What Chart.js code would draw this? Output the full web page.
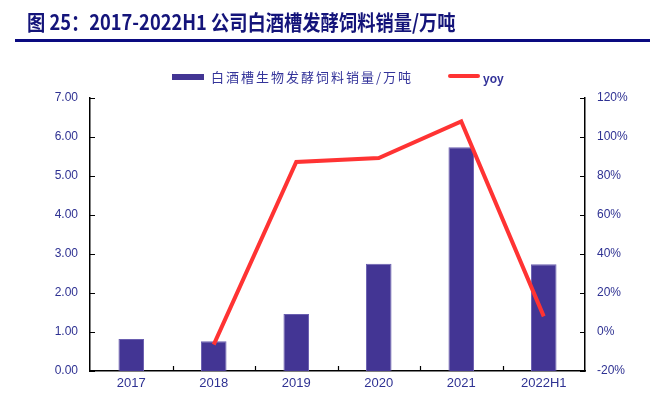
<!DOCTYPE html>
<html>
<head>
<meta charset="utf-8">
<script src="https://cdn.jsdelivr.net/npm/chart.js@4.4.0/dist/chart.umd.min.js"></script>
<style>
  body { margin: 0; background: #fff; }
  #wrap { position: relative; width: 654px; height: 394px; overflow: hidden; }
  #title { position: absolute; left: 27px; top: 6px; font: bold 21px "Noto Sans CJK SC", sans-serif; color: #14147a; white-space: nowrap; transform: scaleX(0.87); transform-origin: left top; }
  #rule { position: absolute; left: 15px; right: 4px; top: 39px; height: 3px; background: #0a0a80; }
  #legend { position: absolute; top: 67px; left: 172px; font: 13px "Noto Sans CJK SC", sans-serif; color: #34349a; display: flex; align-items: center; white-space: nowrap; }
  #legend .item { display: flex; align-items: center; }
  #legend .sw { display: inline-block; width: 32px; margin-right: 7px; }
  #c { position: absolute; left: 0; top: 0; }
</style>
</head>
<body>
<div id="wrap">
  <canvas id="c" width="654" height="394"></canvas>
  <div id="title">图 25：2017-2022H1 公司白酒槽发酵饲料销量/万吨</div>
  <div id="rule"></div>
  <div id="legend"></div>
</div>
<script>
let years = ["2017", "2018", "2019", "2020", "2021", "2022H1"]
let sales = [0.82, 0.76, 1.46, 2.75, 5.74, 2.74] // 万吨
let yoy = [null, -6.5, 87.2, 89.2, 108, 8] // %
let salesLabel = "白酒槽生物发酵饲料销量/万吨"
let yoyLabel = "yoy"
let barColor = "#433594"
let lineColor = "#ff3333"
let tickColor = "#2e3192"

// легенда в html, з тих самих назв і кольорів
let legend = document.getElementById("legend")
legend.innerHTML = `
  <div class="item"><span class="sw" style="height:6px;background:${barColor}"></span><span style="letter-spacing:2px">${salesLabel}</span></div>
  <div class="item" style="margin-left:35px"><span class="sw" style="height:4px;background:${lineColor};border-radius:2px;margin-right:3px;margin-top:-2px"></span><span style="margin-top:5px;font:bold 12px 'Liberation Sans'">${yoyLabel}</span></div>
`

// короткі риски всередину графіка
let innerTicks = {
    id: "innerTicks",
    afterDraw(chart) {
        let ctx = chart.ctx
        let a = chart.chartArea
        ctx.save()
        ctx.strokeStyle = "#000"
        ctx.lineWidth = 1.2
        ctx.beginPath()
        chart.scales.y.ticks.forEach(t => {
            let py = Math.round(chart.scales.y.getPixelForValue(t.value)) + 0.5
            ctx.moveTo(a.left, py); ctx.lineTo(a.left + 5, py)
        })
        chart.scales.y1.ticks.forEach(t => {
            let py = Math.round(chart.scales.y1.getPixelForValue(t.value)) + 0.5
            ctx.moveTo(a.right, py); ctx.lineTo(a.right - 5, py)
        })
        let xs = chart.scales.x
        for (let i = 1; i < years.length; i++) {
            let px = Math.round((xs.getPixelForValue(i - 1) + xs.getPixelForValue(i)) / 2) + 0.5
            ctx.moveTo(px, a.bottom); ctx.lineTo(px, a.bottom - 5)
        }
        ctx.stroke()
        ctx.restore()
    }
}

let ctx = document.getElementById("c").getContext("2d")
new Chart(ctx, {
    data: {
        labels: years,
        datasets: [{
            type: "line",
            label: yoyLabel,
            data: yoy,
            yAxisID: "y1",
            borderColor: lineColor,
            borderWidth: 4,
            pointRadius: 0,
            tension: 0,
            order: 0
        }, {
            type: "bar",
            label: salesLabel,
            data: sales,
            yAxisID: "y",
            backgroundColor: barColor,
            borderColor: "#6a5fb0",
            borderWidth: { top: 1, left: 1, right: 1, bottom: 0 },
            barPercentage: 0.31,
            categoryPercentage: 1,
            order: 1
        }]
    },
    options: {
        responsive: false,
        animation: false,
        layout: { padding: { top: 98, left: 0, right: 0, bottom: 0 } },
        plugins: { legend: { display: false }, tooltip: { enabled: false } },
        scales: {
            x: {
                grid: { display: false, drawTicks: false },
                border: { display: true, color: "#000", width: 1.5 },
                ticks: { color: tickColor, font: { family: "Liberation Sans", size: 13 }, padding: 5, maxRotation: 0 },
                afterFit(s) { s.height = 23 }
            },
            y: {
                position: "left",
                min: 0, max: 7,
                grid: { display: false, drawTicks: false },
                border: { display: true, color: "#000", width: 1.5 },
                ticks: {
                    stepSize: 1, color: tickColor, padding: 12,
                    font: { family: "Liberation Sans", size: 12 },
                    callback: v => v.toFixed(2)
                },
                afterFit(s) { s.width = 90 }
            },
            y1: {
                position: "right",
                min: -20, max: 120,
                grid: { display: false, drawTicks: false },
                border: { display: true, color: "#000", width: 1.5 },
                ticks: {
                    stepSize: 20, color: tickColor, padding: 12,
                    font: { family: "Liberation Sans", size: 12 },
                    callback: v => v + "%"
                },
                afterFit(s) { s.width = 69 }
            }
        }
    },
    plugins: [innerTicks]
})
</script>
</body>
</html>
